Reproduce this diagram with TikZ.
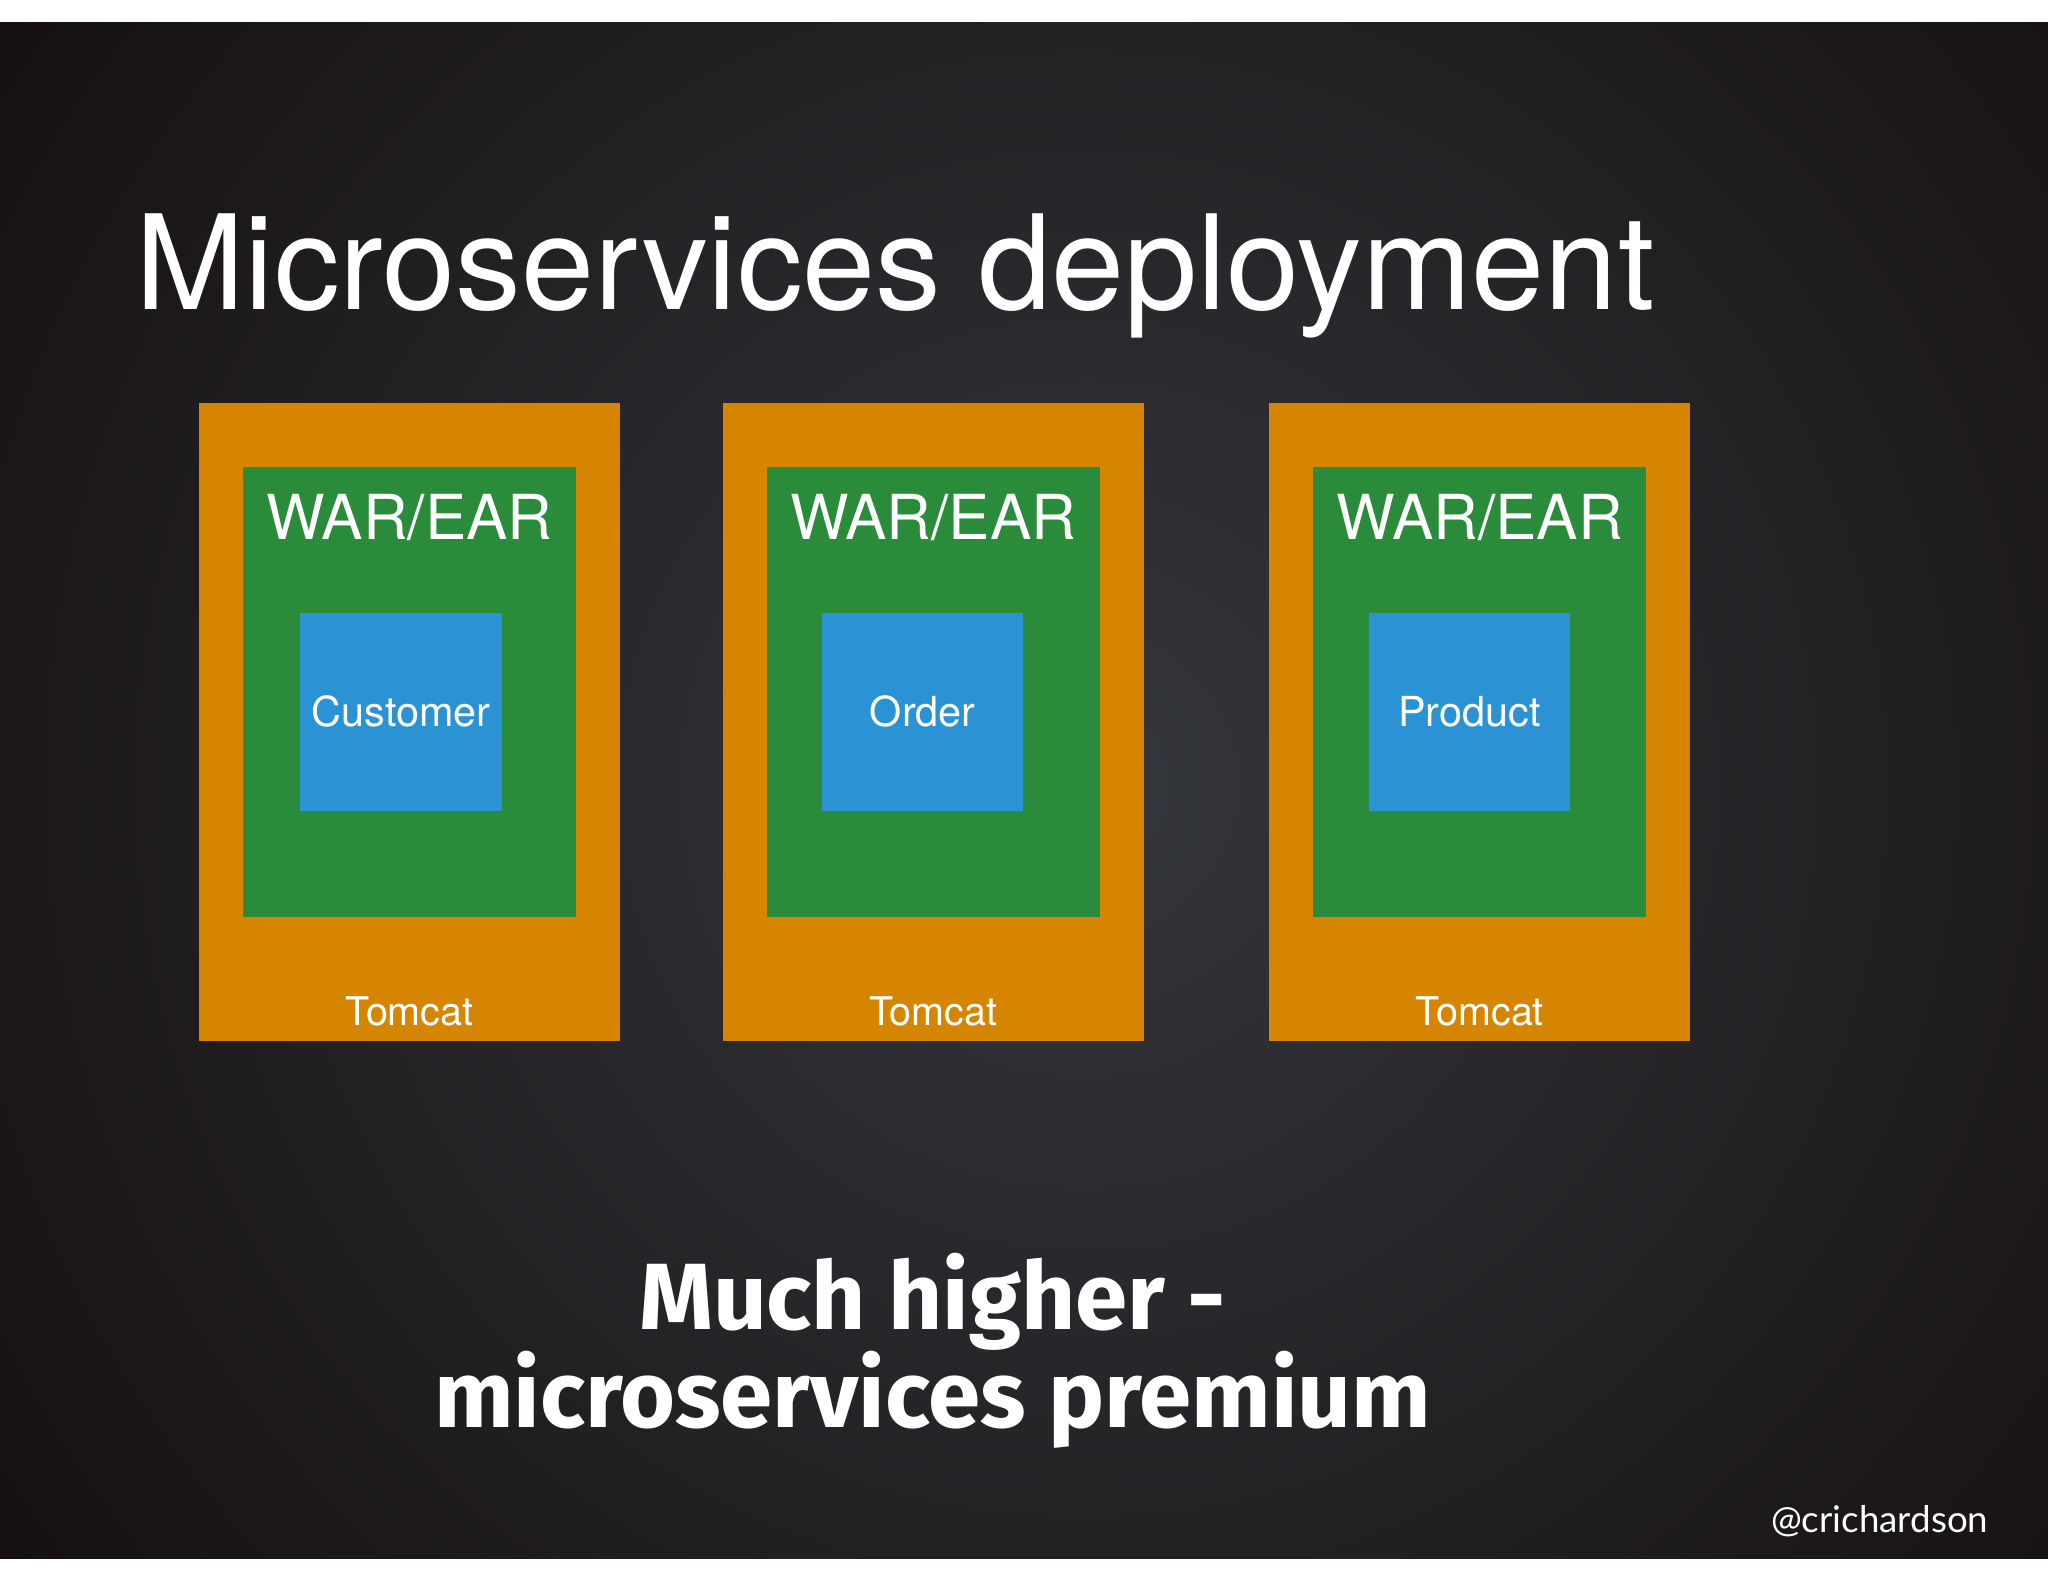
\documentclass[tikz,border=0pt]{standalone}
\usepackage{fontspec}
\setmainfont{TeX Gyre Heros}
\newfontfamily\chalkfont{Fira Sans}
\newfontfamily\tagfont{Lato}
\usepackage{xcolor}
\usetikzlibrary{positioning}
\definecolor{bgdark}{HTML}{120B0B}
\definecolor{bglight}{HTML}{34373D}
\definecolor{tomcatorange}{HTML}{D68500}
\definecolor{wargreen}{HTML}{2A8C3A}
\definecolor{svcblue}{HTML}{2B93D4}

\begin{document}
\begin{tikzpicture}[x=0.01cm,y=-0.01cm,
  server/.style = {fill=tomcatorange, minimum width=3.22cm, minimum height=4.88cm, inner sep=0pt},
  archive/.style = {fill=wargreen, minimum width=2.55cm, minimum height=3.44cm, inner sep=0pt},
  service/.style = {fill=svcblue, minimum width=1.54cm, minimum height=1.52cm, inner sep=0pt, text=white, font=\fontsize{9}{11}\selectfont},
  wartext/.style = {text=white, anchor=base, inner sep=0pt, font=\fontsize{13.5}{16}\selectfont},
  tomtext/.style = {text=white, anchor=base, inner sep=0pt, font=\fontsize{8.6}{10}\selectfont},
  chalk/.style = {text=white, anchor=base, inner sep=0pt, font=\chalkfont\bfseries\fontsize{20.5}{22}\selectfont}]
\useasboundingbox (0,0) rectangle (1568,1211);
\fill[white] (0,0) rectangle (1568,1211);
\fill[bgdark] (0,17) rectangle (1568,1193);
\begin{scope}
\clip (0,17) rectangle (1568,1193);
\shade[inner color=bglight, outer color=bgdark] (830,600) circle (1150);
\end{scope}
% title
\node[text=white, anchor=base west, inner sep=0pt, font=\fontsize{28.6}{34}\selectfont] (title) at (103,237) {Microservices deployment};
% three tomcats
\node[server] (tc1) at (313.5,553) {};
\node[server] (tc2) at (714.5,553) {};
\node[server] (tc3) at (1133,553) {};
\node[archive] (war1) at (313.5,530) {};
\node[archive] (war2) at (714.5,530) {};
\node[archive] (war3) at (1133,530) {};
\node[service] (cust) at (307,545) {Customer};
\node[service] (order) at (706.5,545) {Order};
\node[service] (prod) at (1125,545) {Product};
\node[wartext] (w1) at (313.5,413) {WAR/EAR};
\node[wartext] (w2) at (714.5,413) {WAR/EAR};
\node[wartext] (w3) at (1133,413) {WAR/EAR};
\node[tomtext] (t1) at (313.5,785) {Tomcat};
\node[tomtext] (t2) at (714.5,785) {Tomcat};
\node[tomtext] (t3) at (1133,785) {Tomcat};
% premium note
\node[chalk] (note1) at (714,1018) {Much higher -};
\node[chalk] (note2) at (714,1093) {microservices premium};
\node[text=white, anchor=base east, inner sep=0pt, font=\tagfont\fontsize{8}{10}\selectfont] (handle) at (1523,1173) {@crichardson};
\end{tikzpicture}
\end{document}
